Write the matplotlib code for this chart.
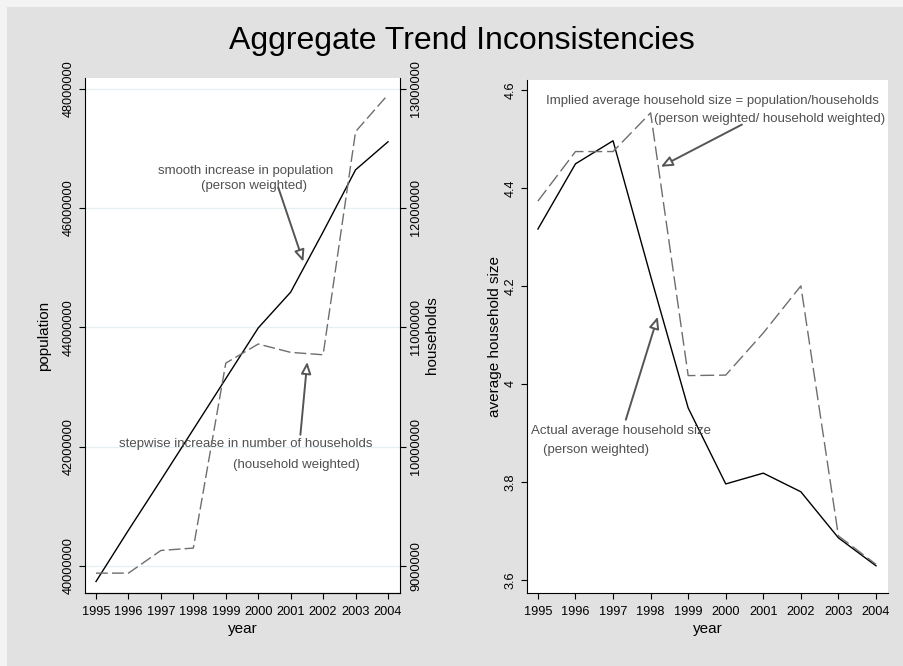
"""
Aggregate trend inconsistencies: population vs households, and household size.
"""

import matplotlib.pyplot as plt
from matplotlib.patches import Rectangle

plt.rcParams["font.family"] = ["Liberation Sans", "DejaVu Sans"]

years = [1995, 1996, 1997, 1998, 1999, 2000, 2001, 2002, 2003, 2004]
population = [39.74e6, 40.60e6, 41.44e6, 42.29e6, 43.14e6, 43.99e6,
              44.59e6, 45.60e6, 46.64e6, 47.11e6]
households = [8.94e6, 8.94e6, 9.13e6, 9.15e6, 10.70e6, 10.86e6,
              10.79e6, 10.77e6, 12.64e6, 12.95e6]
actual_size = [4.316, 4.449, 4.496, 4.22, 3.951, 3.796, 3.818, 3.780, 3.686, 3.629]
implied_size = [4.373, 4.474, 4.474, 4.553, 4.017, 4.018, 4.104, 4.200, 3.690, 3.632]

pop_ticks = [40000000, 42000000, 44000000, 46000000, 48000000]
hh_ticks = [9000000, 10000000, 11000000, 12000000, 13000000]
size_ticks = [3.6, 3.8, 4.0, 4.2, 4.4, 4.6]
size_labels = ["3.6", "3.8", "4", "4.2", "4.4", "4.6"]

BG = "#e1e1e1"
TXT = "#505050"
DASH_COL = "#6e6e6e"
FS_TICK = 9.2
FS_NOTE = 9.5
FS_LAB = 11


def hh_from_pop(p):
    # the households axis is aligned so that its ticks sit on the population ticks
    return 9e6 + (p - 40e6) / 2


def style_axis(ax):
    ax.set_facecolor("white")
    ax.spines["top"].set_visible(False)
    ax.spines["right"].set_visible(False)
    ax.tick_params(direction="out", length=4, width=0.8, labelsize=FS_TICK, colors="black")
    ax.tick_params(axis="x", pad=5)
    ax.set_xticks(years)
    ax.set_xlabel("year", fontsize=FS_LAB, labelpad=3)


def note(ax, x, y, s):
    ax.text(x, y, s, ha="center", va="center", fontsize=FS_NOTE, color=TXT)


def arrow(ax, tail, head):
    ax.annotate("", xy=head, xytext=tail,
                arrowprops=dict(arrowstyle="-|>,head_length=0.7,head_width=0.3",
                                fc="white", ec="#555555", lw=1.4,
                                shrinkA=0, shrinkB=0))


def main():
    fig = plt.figure(figsize=(9.04, 6.66), dpi=100, facecolor="#f3f3f3")
    fig.patches.append(Rectangle((7 / 904, 0), 1, 1 - 7 / 666, transform=fig.transFigure,
                                 fc=BG, ec="none", zorder=-10))

    fig.text(0.511, 0.938, "Aggregate Trend Inconsistencies", ha="center", va="center",
             fontsize=23)

    # ---- left panel: population and households ----
    ax = fig.add_axes([0.094, 0.1096, 0.3485, 0.7734])
    ax2 = ax.twinx()
    style_axis(ax)
    ax.set_xlim(1994.66, 2004.37)
    ylo, yhi = 39.547e6, 48.18e6
    ax.set_ylim(ylo, yhi)
    ax2.set_ylim(hh_from_pop(ylo), hh_from_pop(yhi))
    ax.set_yticks(pop_ticks)
    ax.set_yticklabels([str(t) for t in pop_ticks], rotation=90, va="center")
    ax.grid(axis="y", color="#e6eff1", lw=0.9)
    ax.set_axisbelow(True)
    ax.set_ylabel("population", fontsize=FS_LAB, labelpad=8)

    ax2.spines["top"].set_visible(False)
    ax2.spines["left"].set_visible(False)
    ax2.set_yticks(hh_ticks)
    ax2.set_yticklabels([str(t) for t in hh_ticks], rotation=90, va="center")
    ax2.tick_params(direction="out", length=4, width=0.8, labelsize=FS_TICK)
    ax2.set_ylabel("households", fontsize=FS_LAB, labelpad=2)

    ax.plot(years, population, color="black", lw=1.0)
    ax2.plot(years, households, color=DASH_COL, lw=1.0, dashes=(8.5, 3))

    note(ax, 1999.6, 46.62e6, "smooth increase in population")
    note(ax, 1999.88, 46.37e6, "(person weighted)")
    arrow(ax, (2000.62, 46.34e6), (2001.39, 45.10e6))
    note(ax, 1999.63, 42.05e6, "stepwise increase in number of households")
    note(ax, 2001.17, 41.69e6, "(household weighted)")
    arrow(ax, (2001.3, 42.2e6), (2001.51, 43.42e6))

    # ---- right panel: average household size ----
    bx = fig.add_axes([0.583, 0.1096, 0.3993, 0.7703])
    style_axis(bx)
    bx.set_xlim(1994.71, 2004.32)
    bx.set_ylim(3.5735, 4.620)
    bx.set_yticks(size_ticks)
    bx.set_yticklabels(size_labels, rotation=90, va="center")
    bx.set_ylabel("average household size", fontsize=FS_LAB, labelpad=2)

    bx.plot(years, actual_size, color="black", lw=1.0)
    bx.plot(years, implied_size, color=DASH_COL, lw=1.0, dashes=(10, 3.5))

    note(bx, 1999.65, 4.578, "Implied average household size = population/households")
    note(bx, 2001.17, 4.541, "(person weighted/ household weighted)")
    arrow(bx, (2000.43, 4.529), (1998.27, 4.443))
    note(bx, 1997.21, 3.904, "Actual average household size")
    note(bx, 1996.54, 3.865, "(person weighted)")
    arrow(bx, (1997.34, 3.927), (1998.19, 4.137))

    fig.savefig("out.png", dpi=100, facecolor=fig.get_facecolor())


if __name__ == "__main__":
    main()
